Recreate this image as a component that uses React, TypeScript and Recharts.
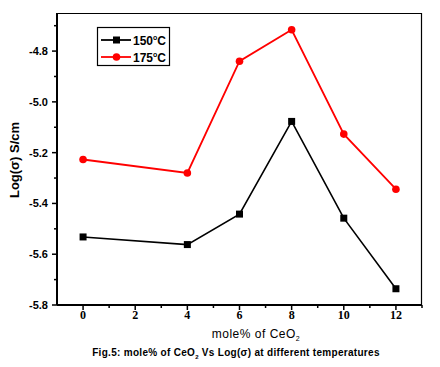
import { LineChart, Line, XAxis, YAxis } from 'recharts'

// mole% of CeO2
const moleX = [0, 4, 6, 8, 10, 12]
// Log(sigma) S/cm at 150 C and 175 C
const log150 = [-5.532, -5.562, -5.442, -5.077, -5.458, -5.736]
const log175 = [-5.227, -5.28, -4.84, -4.716, -5.127, -5.344]

const xTicks = [-1, 0, 1, 2, 3, 4, 5, 6, 7, 8, 9, 10, 11, 12, 13]
const yTicks = [-5.8, -5.7, -5.6, -5.5, -5.4, -5.3, -5.2, -5.1, -5.0, -4.9, -4.8, -4.7]

const data = moleX.map((x, i) => ({ x, t150: log150[i], t175: log175[i] }))

const SANS = '"Liberation Sans", Arial, sans-serif'
const SERIF = '"Liberation Serif", "Times New Roman", serif'

const XTick = (props: any) => {
  const { x, y, payload } = props
  const v = payload.value
  const axisY = y - 5 - 3
  const major = v % 2 === 0
  if (v === -1) return <g />
  return (
    <g>
      <line x1={x} x2={x} y1={axisY} y2={axisY + (major ? 5 : 3)} stroke="#000" strokeWidth={1.5} />
      {major && v !== 13 && (
        <text x={x} y={axisY + 14} textAnchor="middle" fontFamily={SERIF} fontWeight="bold" fontSize={12} fill="#000">
          {v}
        </text>
      )}
    </g>
  )
}

const YTick = (props: any) => {
  const { x, y, payload } = props
  const v = payload.value
  const axisX = x + 5 + 4
  const major = Math.round(v * 10) % 2 === 0
  return (
    <g>
      <line x1={axisX - (major ? 5 : 3)} x2={axisX} y1={y} y2={y} stroke="#000" strokeWidth={1.5} />
      {major && (
        <text x={axisX - 9} y={y + 4} textAnchor="end" fontFamily={SANS} fontWeight="bold" fontSize={11} fill="#000">
          {v.toFixed(1)}
        </text>
      )}
    </g>
  )
}

const SquareDot = (props: any) => {
  const { cx, cy, index } = props
  return <rect key={'s' + index} x={cx - 3.5} y={cy - 3.5} width={7} height={7} fill="#000" />
}

const RoundDot = (props: any) => {
  const { cx, cy, index } = props
  return <circle key={'c' + index} cx={cx} cy={cy} r={3.8} fill="#f00" />
}

export default function App() {
  return (
    <div style={{ position: 'absolute', left: 0, top: 0, width: 440, height: 367, background: '#fff' }}>
      <LineChart width={440} height={367} data={data} margin={{ top: 13, right: 18, left: 0, bottom: 42 }}>
        <XAxis
          dataKey="x"
          type="number"
          domain={[-1, 13]}
          ticks={xTicks}
          interval={0}
          tickSize={5}
          tickMargin={3}
          height={20}
          tickLine={false}
          tick={<XTick />}
          axisLine={{ stroke: '#000', strokeWidth: 2 }}
        />
        <YAxis
          type="number"
          domain={[-5.8, -4.65]}
          ticks={yTicks}
          interval={0}
          width={57}
          tickSize={5}
          tickMargin={4}
          tickLine={false}
          tick={<YTick />}
          axisLine={{ stroke: '#000', strokeWidth: 2 }}
        />
        <Line dataKey="t150" stroke="#000" strokeWidth={1.6} dot={<SquareDot />} isAnimationActive={false} />
        <Line dataKey="t175" stroke="#f00" strokeWidth={1.8} dot={<RoundDot />} isAnimationActive={false} />
      </LineChart>
      <svg width={440} height={367} style={{ position: 'absolute', left: 0, top: 0, pointerEvents: 'none' }}>
        {/* plot frame: top and right edges */}
        <polyline points="57,13.5 421.5,13.5 421.5,305" fill="none" stroke="#000" strokeWidth={1.2} />
        <rect x={97.5} y={27.5} width={72} height={38} fill="#fff" stroke="#000" strokeWidth={1.2} />
        <line x1={101} x2={131} y1={40} y2={40} stroke="#000" strokeWidth={1.8} />
        <rect x={113} y={36.5} width={7} height={7} fill="#000" />
        <text x={133} y={45} fontFamily={SANS} fontWeight="bold" fontSize={12} fill="#000">
          150<tspan fontSize={7} dy={-5}>o</tspan><tspan dy={5}>C</tspan>
        </text>
        <line x1={101} x2={131} y1={57} y2={57} stroke="#f00" strokeWidth={1.8} />
        <circle cx={116.5} cy={57} r={3.8} fill="#f00" />
        <text x={133} y={62} fontFamily={SANS} fontWeight="bold" fontSize={12} fill="#000">
          175<tspan fontSize={7} dy={-5}>o</tspan><tspan dy={5}>C</tspan>
        </text>
        <text
          transform="translate(19,160) rotate(-90)"
          textAnchor="middle"
          fontFamily={SANS}
          fontWeight="bold"
          fontSize={13}
          fill="#000"
        >
          Log(σ) S/cm
        </text>
        <text x={256} y={338} textAnchor="middle" fontFamily={SANS} fontSize={12} fill="#000" letterSpacing={0.5}>
          mole% of CeO<tspan fontSize={7} dy={3}>2</tspan>
        </text>
        <text x={236} y={356} textAnchor="middle" fontFamily={SANS} fontWeight="bold" fontSize={10} fill="#000" letterSpacing={0.3}>
          Fig.5: mole% of CeO<tspan fontSize={6} dy={3}>2</tspan><tspan dy={-3}> Vs Log(σ) at different temperatures</tspan>
        </text>
      </svg>
    </div>
  )
}
